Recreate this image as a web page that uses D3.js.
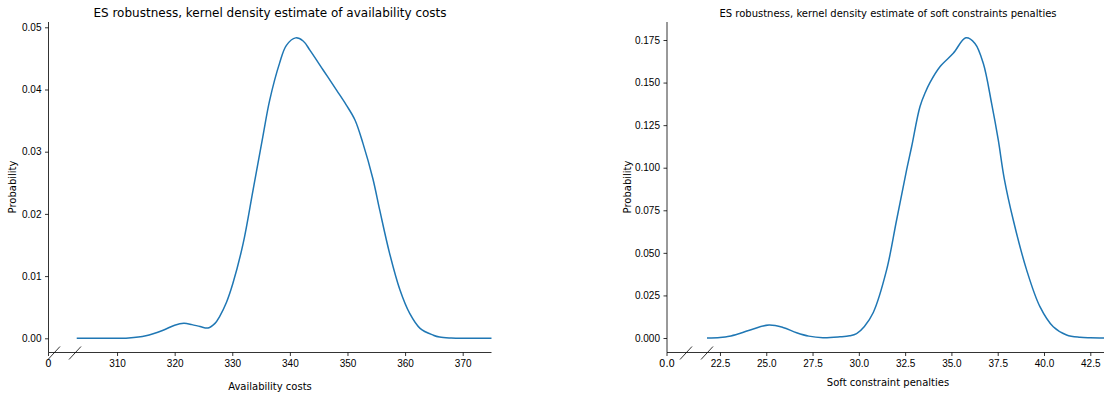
<!DOCTYPE html>
<html>
<head>
  <meta charset="utf-8">
  <script src="https://cdn.jsdelivr.net/npm/d3@7"></script>
  <style>
body { margin: 0; background: #fff; }
svg { font-family: "DejaVu Sans", sans-serif; }
.tick text { font-size: 10px; fill: #000; }
.tick line { stroke: #000; stroke-width: 0.8; }
.spine { stroke: #000; stroke-width: 0.8; fill: none; }
.kde { fill: none; stroke: #1f77b4; stroke-width: 1.5; }
  </style>
</head>
<body>
<svg width="1104" height="401"></svg>
<script>

// availability costs KDE
const availX = [303, 308, 312, 315, 318, 320, 321.6, 323, 324.4, 325.8, 327, 327.8, 329, 330.1,
  331.9, 333.6, 335.3, 336.5, 338.2, 339.4, 341.0, 342.3, 343.5, 345.8, 348.1, 349.8, 351.3,
  352.7, 354.4, 355.6, 357.3, 359.1, 360.8, 362.6, 364.9, 366, 368, 370, 375];
const availP = [0, 0, 0.00005, 0.0004, 0.0013, 0.0021, 0.0024, 0.0022, 0.0019, 0.00166, 0.0024,
  0.0035, 0.0058, 0.0088, 0.0153, 0.0238, 0.0324, 0.0383, 0.0442, 0.0471, 0.0483, 0.0478,
  0.0463, 0.0431, 0.0399, 0.0375, 0.0351, 0.0313, 0.0257, 0.0206, 0.0137, 0.0078, 0.0040,
  0.0016, 0.0005, 0.0002, 0.00005, 0, 0];

// soft constraint penalties KDE
const softX = [21.8, 22.5, 23.0, 23.6, 24.3, 25.15, 25.9, 26.64, 27.3, 28.06, 28.98, 29.5, 29.88,
  30.3, 30.78, 31.5, 32.04, 32.58, 32.85, 33.3, 33.6, 33.84, 34.38, 35.1, 35.78, 36.27, 36.72,
  37.17, 37.53, 37.85, 38.34, 39.06, 39.78, 40.5, 41.22, 41.94, 42.5, 43.3];
const softP = [0, 0.0003, 0.0010, 0.0028, 0.0053, 0.0076, 0.0062, 0.0031, 0.0011, 0.0002, 0.0007,
  0.0013, 0.0026, 0.0068, 0.0150, 0.040, 0.0693, 0.0987, 0.1123, 0.1358, 0.1445, 0.1500, 0.1593,
  0.1672, 0.1763, 0.173, 0.1613, 0.1378, 0.1163, 0.0938, 0.0693, 0.040, 0.0184, 0.0066,
  0.0018, 0.0004, 0.0001, 0];

const availXTicks = [310, 320, 330, 340, 350, 360, 370];
const availYTicks = [0, 0.01, 0.02, 0.03, 0.04, 0.05];
const softXTicks = [22.5, 25, 27.5, 30, 32.5, 35, 37.5, 40, 42.5];
const softYTicks = [0, 0.025, 0.05, 0.075, 0.1, 0.125, 0.15, 0.175];

const svg = d3.select("svg");

function panel(o) {
  var g = svg.append("g");
  var data = o.xs.map((x, i) => ({x: x, p: o.ps[i]}));

  var x = d3.scaleLinear().domain(o.xDomain).range([o.mainLeft, o.right]);
  var y = d3.scaleLinear().domain(o.yDomain).range(o.yRange);
  var spineTop = 22, spineBottom = 352.5;

  // spines
  g.append("line").attr("class", "spine")
    .attr("x1", o.left).attr("x2", o.left).attr("y1", spineTop).attr("y2", spineBottom);
  g.append("line").attr("class", "spine")
    .attr("x1", o.left).attr("x2", o.right).attr("y1", spineBottom).attr("y2", spineBottom);

  // y axis
  var ya = g.append("g").attr("transform", `translate(${o.left},0)`)
    .call(d3.axisLeft(y).tickValues(o.yTicks).tickFormat(d3.format(o.yFmt))
      .tickSize(3.5).tickPadding(3.5));
  ya.select(".domain").remove();

  // x axis, main part
  var xa = g.append("g").attr("transform", `translate(0,${spineBottom})`)
    .call(d3.axisBottom(x).tickValues(o.xTicks).tickFormat(d3.format(o.xFmt))
      .tickSize(3.5).tickPadding(3.5));
  xa.select(".domain").remove();

  // the lone zero tick left of the break
  var z = g.append("g").attr("class", "tick").attr("transform", `translate(${o.left},${spineBottom})`);
  z.append("line").attr("y2", 3.5);
  z.append("text").attr("y", 7).attr("dy", "0.71em").attr("text-anchor", "middle").text(o.zeroLabel);

  // break marks
  o.breaks.forEach(b => {
    g.append("line").attr("class", "spine")
      .attr("x1", b - 6).attr("y1", spineBottom + 7)
      .attr("x2", b + 6).attr("y2", spineBottom - 6);
  });

  // curve
  g.append("path").datum(data).attr("class", "kde")
    .attr("d", d3.line().x(d => x(d.x)).y(d => y(Math.max(0, d.p)))
      .curve(d3.curveCatmullRom.alpha(0.5)));

  // texts
  g.append("text").attr("x", o.titleX).attr("y", 17).attr("text-anchor", "middle")
    .style("font-size", o.titleSize + "px").text(o.title);
  g.append("text").attr("x", o.titleX).attr("y", o.xLabelY).attr("text-anchor", "middle")
    .style("font-size", "10px").text(o.xLabel);
  g.append("text").attr("transform", `translate(${o.yLabelX},187) rotate(-90)`)
    .attr("text-anchor", "middle").style("font-size", "10px").text("Probability");
}

panel({
  xs: availX, ps: availP,
  xDomain: [302.7, 375], yDomain: [0, 0.05], yRange: [338.3, 27.3],
  left: 48.5, mainLeft: 75, right: 491.5,
  xTicks: availXTicks, yTicks: availYTicks, xFmt: "d", yFmt: ".2f", zeroLabel: "0",
  breaks: [54, 75],
  title: "ES robustness, kernel density estimate of availability costs", titleSize: 12,
  titleX: 270, xLabel: "Availability costs", xLabelY: 390, yLabelX: 16
});

panel({
  xs: softX, ps: softP,
  xDomain: [21.8, 43.24], yDomain: [0, 0.175], yRange: [338, 40],
  left: 667, mainLeft: 707, right: 1104,
  xTicks: softXTicks, yTicks: softYTicks, xFmt: ".1f", yFmt: ".3f", zeroLabel: "0.0",
  breaks: [686, 707],
  title: "ES robustness, kernel density estimate of soft constraints penalties", titleSize: 10,
  titleX: 888, xLabel: "Soft constraint penalties", xLabelY: 386, yLabelX: 631
});

</script>
</body>
</html>
